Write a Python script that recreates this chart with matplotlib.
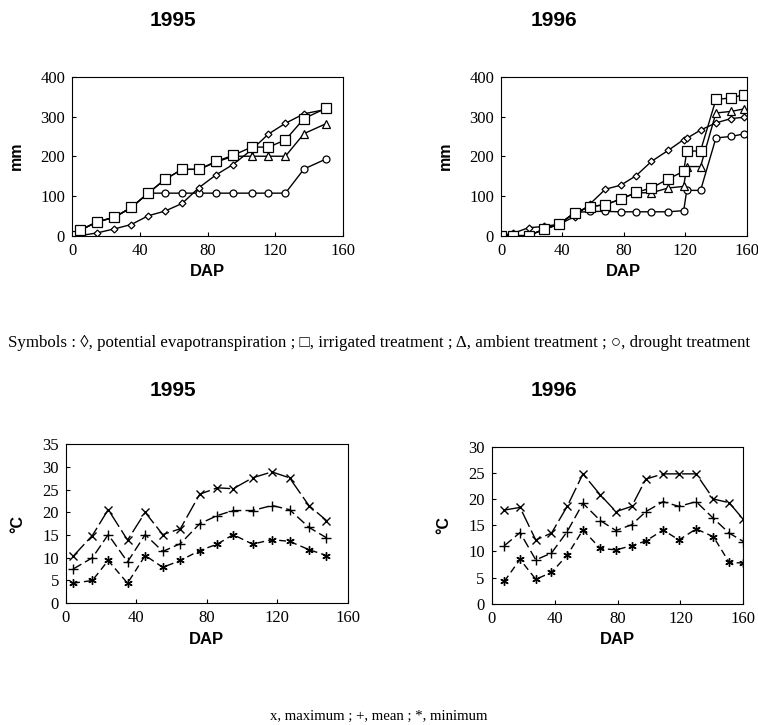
import matplotlib
matplotlib.use("Agg")
import matplotlib.pyplot as plt

# top row: cumulative water (mm) vs days after planting
dap_95 = [0, 5, 15, 25, 35, 45, 55, 65, 75, 85, 95, 106, 116, 126, 137, 150]
pet_95 = [0, 0, 7, 17, 28, 50, 62, 81, 121, 153, 179, 216, 256, 283, 307, 318]
irr_95 = [0, 14, 35, 46, 71, 107, 142, 167, 167, 187, 202, 223, 223, 241, 295, 321]
amb_95 = [0, 14, 35, 46, 71, 107, 142, 167, 167, 185, 200, 200, 200, 200, 257, 282]
dro_95 = [0, 14, 35, 46, 71, 107, 107, 107, 107, 107, 107, 107, 107, 107, 168, 193]

dap_96 = [0, 8, 18, 28, 38, 48, 58, 68, 78, 88, 98, 109, 119, 121, 130, 140, 150, 158]
pet_96 = [0, 6, 20, 23, 29, 48, 80, 117, 127, 151, 187, 215, 242, 245, 266, 284, 295, 298]
irr_96 = [0, 0, 0, 16, 29, 58, 73, 78, 92, 109, 120, 143, 162, 212, 214, 343, 347, 355]
amb_96 = [0, 0, 0, 16, 29, 58, 73, 78, 92, 108, 108, 120, 124, 174, 174, 309, 313, 319]
dro_96 = [0, 0, 0, 16, 29, 58, 61, 61, 60, 60, 60, 60, 63, 114, 114, 246, 250, 256]

# bottom row: temperature (°C)
tdap_95 = [4, 15, 24, 35, 45, 55, 65, 76, 86, 95, 106, 117, 127, 138, 148]
tmax_95 = [10.3, 14.9, 20.6, 13.9, 20.0, 15.1, 16.4, 24.0, 25.4, 25.2, 27.6, 28.9, 27.6, 21.5, 18.2]
tmean_95 = [7.5, 10.0, 15.1, 9.1, 15.1, 11.4, 13.1, 17.5, 19.3, 20.4, 20.4, 21.5, 20.6, 16.7, 14.4]
tmin_95 = [4.4, 5.0, 9.4, 4.4, 10.5, 7.9, 9.4, 11.6, 13.0, 15.1, 13.0, 14.0, 13.6, 11.8, 10.5]

tdap_96 = [8, 18, 28, 38, 48, 58, 69, 79, 89, 98, 109, 119, 130, 141, 151, 160]
tmax_96 = [17.9, 18.4, 12.2, 13.5, 18.6, 24.8, 20.8, 17.6, 18.6, 23.8, 24.8, 24.8, 24.8, 20.0, 19.3, 16.1]
tmean_96 = [11.1, 13.6, 8.4, 9.7, 13.8, 19.2, 15.9, 14.0, 15.1, 17.6, 19.5, 18.6, 19.5, 16.3, 13.5, 11.9]
tmin_96 = [4.3, 8.5, 4.7, 6.0, 9.3, 14.1, 10.6, 10.3, 11.1, 12.0, 14.1, 12.2, 14.3, 12.8, 7.9, 7.8]

serif = ["Liberation Serif", "DejaVu Serif"]
sans = ["Liberation Sans", "DejaVu Sans"]

fig = plt.figure(figsize=(7.58, 7.25), dpi=100)


def style(ax, xmax, ymax, ystep, ylabel):
    ax.set_xlim(0, xmax)
    ax.set_ylim(0, ymax)
    ax.set_xticks(range(0, xmax + 1, 40))
    ax.set_yticks(range(0, ymax + 1, ystep))
    ax.tick_params(direction="in", length=3, width=0.8, labelsize=12, pad=5)
    for lab in ax.get_xticklabels() + ax.get_yticklabels():
        lab.set_family(serif)
    for s in ax.spines.values():
        s.set_linewidth(0.8)
    ax.set_xlabel("DAP", family=sans, fontweight="bold", fontsize=12, labelpad=4)
    ax.set_ylabel(ylabel, family=sans, fontweight="bold", fontsize=11.5, labelpad=12)


def water(ax, x, pet, irr, amb, dro):
    kw = dict(color="black", lw=1.0, mfc="white", mec="black", mew=0.9)
    ax.plot(x, dro, marker="o", ms=5, **kw)
    ax.plot(x, amb, marker="^", ms=5.5, **kw)
    ax.plot(x, pet, marker="D", ms=3.5, **kw)
    ax.plot(x, irr, marker="s", ms=6.5, **kw)
    style(ax, 160, 400, 100, "mm")


def temps(ax, x, tmax, tmean, tmin, ymax):
    kw = dict(color="black", lw=1.0, mec="black", mew=1.0)
    ax.plot(x, tmax, marker="x", ms=6, dashes=(12, 3), **kw)
    ax.plot(x, tmean, marker="+", ms=7, dashes=(7, 3), **kw)
    ax.plot(x, tmin, marker=(6, 2, 0), ms=6, dashes=(5, 3), **kw)
    style(ax, 160, ymax, 5, "°C")


ax1 = fig.add_axes([0.095, 0.675, 0.3575, 0.219])
water(ax1, dap_95, pet_95, irr_95, amb_95, dro_95)
ax2 = fig.add_axes([0.661, 0.675, 0.324, 0.219])
water(ax2, dap_96, pet_96, irr_96, amb_96, dro_96)
ax3 = fig.add_axes([0.087, 0.168, 0.3716, 0.2193])
temps(ax3, tdap_95, tmax_95, tmean_95, tmin_95, 35)
ax4 = fig.add_axes([0.6487, 0.167, 0.332, 0.217])
temps(ax4, tdap_96, tmax_96, tmean_96, tmin_96, 30)

for x, y, t in [(173, 20, "1995"), (554, 20, "1996"), (173, 390, "1995"), (554, 390, "1996")]:
    fig.text(x / 758, 1 - y / 725, t, ha="center", va="center",
             family=sans, fontweight="bold", fontsize=15)

fig.text(0.5, 1 - 343 / 725,
         "Symbols : \u25ca, potential evapotranspiration ; \u25a1, irrigated treatment ; "
         "\u0394, ambient treatment ; \u25cb, drought treatment",
         ha="center", va="center", family=serif, fontsize=12.2)
fig.text(0.5, 1 - 716 / 725, "x, maximum ; +, mean ; *, minimum",
         ha="center", va="center", family=serif, fontsize=10.6)

fig.savefig("out.png", dpi=100)
